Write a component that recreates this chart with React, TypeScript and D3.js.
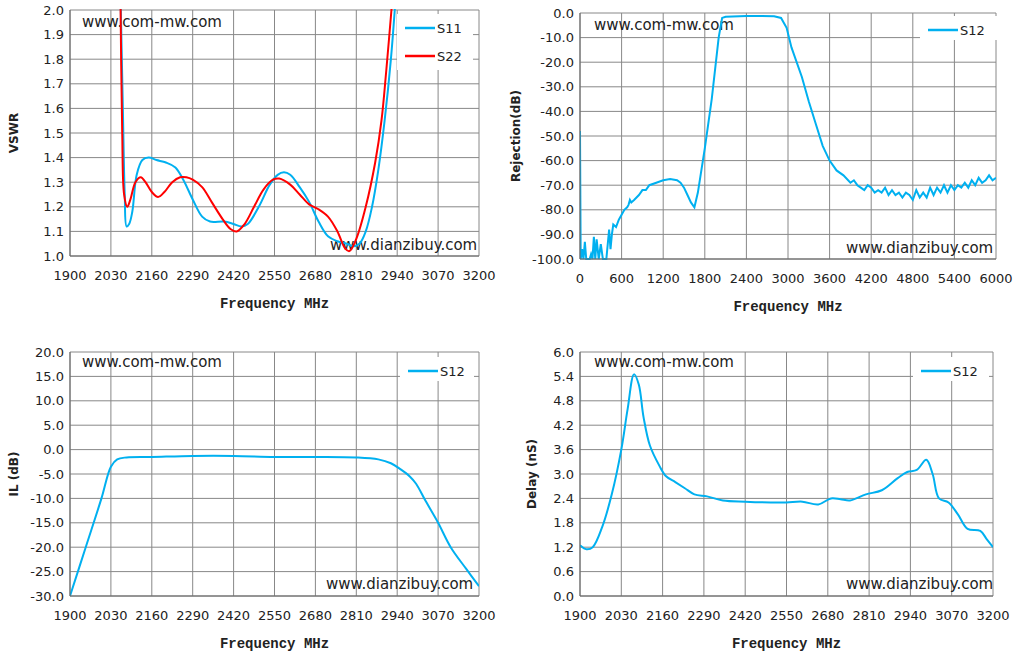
import React from 'react';
import * as d3 from 'd3';

type Pt = [number, number];

const freqTicks = [1900, 2030, 2160, 2290, 2420, 2550, 2680, 2810, 2940, 3070, 3200];
const wideTicks = [0, 600, 1200, 1800, 2400, 3000, 3600, 4200, 4800, 5400, 6000];
const vswrTicks = [1.0, 1.1, 1.2, 1.3, 1.4, 1.5, 1.6, 1.7, 1.8, 1.9, 2.0];
const rejTicks = [-100, -90, -80, -70, -60, -50, -40, -30, -20, -10, 0];
const ilTicks = [-30, -25, -20, -15, -10, -5, 0, 5, 10, 15, 20];
const delayTicks = [0, 0.6, 1.2, 1.8, 2.4, 3.0, 3.6, 4.2, 4.8, 5.4, 6.0];

const s11: Pt[] = [[2060, 2.1], [2068, 1.6], [2074, 1.25], [2080, 1.12], [2088, 1.13], [2098, 1.18], [2112, 1.33], [2130, 1.39], [2150, 1.40], [2175, 1.39], [2205, 1.38], [2235, 1.36], [2260, 1.31], [2290, 1.23], [2320, 1.16], [2345, 1.14], [2390, 1.14], [2420, 1.13], [2445, 1.12], [2465, 1.13], [2500, 1.2], [2535, 1.29], [2560, 1.33], [2580, 1.34], [2600, 1.33], [2630, 1.28], [2660, 1.22], [2690, 1.14], [2720, 1.08], [2750, 1.06], [2780, 1.05], [2800, 1.04], [2820, 1.05], [2840, 1.1], [2860, 1.2], [2880, 1.35], [2900, 1.55], [2920, 1.8], [2935, 2.05]];
const s22: Pt[] = [[2060, 2.1], [2066, 1.5], [2072, 1.25], [2082, 1.2], [2092, 1.23], [2108, 1.3], [2125, 1.32], [2140, 1.3], [2160, 1.26], [2180, 1.24], [2200, 1.26], [2225, 1.3], [2250, 1.32], [2270, 1.32], [2290, 1.31], [2320, 1.28], [2350, 1.22], [2385, 1.15], [2410, 1.11], [2430, 1.1], [2455, 1.13], [2485, 1.2], [2515, 1.27], [2545, 1.31], [2565, 1.315], [2600, 1.29], [2630, 1.25], [2660, 1.21], [2690, 1.19], [2720, 1.16], [2750, 1.1], [2775, 1.03], [2788, 1.02], [2810, 1.07], [2840, 1.2], [2870, 1.38], [2890, 1.55], [2905, 1.75], [2925, 2.05]];
const rejS12: Pt[] = [[0, -48], [10, -100], [30, -96], [50, -100], [70, -93], [90, -100], [140, -100], [160, -98], [180, -100], [200, -91], [220, -100], [240, -92], [270, -100], [300, -94], [330, -100], [380, -100], [400, -94], [420, -88], [440, -96], [460, -90], [480, -86], [520, -87], [560, -84], [600, -82], [640, -80], [680, -79], [700, -78], [720, -76], [740, -77], [780, -76], [850, -74], [900, -72], [950, -72], [1000, -70], [1100, -69], [1200, -68], [1300, -67.5], [1400, -68], [1450, -69], [1500, -71], [1550, -74], [1600, -77], [1650, -79], [1700, -73], [1800, -55], [1900, -35], [2000, -10], [2050, -2], [2100, -1.5], [2400, -1.2], [2800, -1.3], [2900, -2], [2980, -6], [3050, -14], [3200, -26], [3300, -36], [3400, -45], [3500, -54], [3600, -60], [3700, -64], [3800, -66], [3900, -69], [3950, -68], [4000, -70], [4050, -71], [4100, -72], [4150, -70], [4200, -71], [4250, -73], [4300, -72], [4350, -73], [4400, -71], [4450, -74], [4500, -72], [4550, -74], [4600, -73], [4650, -75], [4700, -73], [4750, -74], [4800, -76], [4850, -72], [4900, -75], [4950, -73], [5000, -75], [5050, -71], [5100, -74], [5150, -71], [5200, -73], [5250, -70], [5300, -73], [5350, -70], [5400, -72], [5450, -70], [5500, -71], [5550, -69], [5600, -71], [5650, -68], [5700, -70], [5750, -67], [5800, -69], [5850, -68], [5900, -66], [5950, -68], [6000, -67]];
const ilS12: Pt[] = [[1900, -30], [1950, -20], [2000, -10], [2030, -3.5], [2050, -2], [2080, -1.6], [2160, -1.5], [2290, -1.3], [2420, -1.3], [2550, -1.5], [2680, -1.5], [2810, -1.6], [2880, -2.0], [2920, -2.8], [2950, -4], [2980, -5.5], [3000, -7], [3030, -10.5], [3070, -15], [3110, -20], [3160, -24.5], [3200, -28]];
const delayS12: Pt[] = [[1900, 1.25], [1920, 1.15], [1940, 1.2], [1970, 1.7], [2000, 2.5], [2030, 3.6], [2050, 4.6], [2070, 5.45], [2085, 5.2], [2100, 4.4], [2120, 3.7], [2150, 3.2], [2170, 2.95], [2200, 2.8], [2230, 2.65], [2260, 2.5], [2300, 2.45], [2350, 2.35], [2420, 2.32], [2500, 2.3], [2550, 2.3], [2600, 2.32], [2650, 2.25], [2690, 2.4], [2720, 2.38], [2750, 2.35], [2800, 2.5], [2850, 2.6], [2900, 2.9], [2930, 3.05], [2960, 3.1], [2990, 3.35], [3010, 3.0], [3030, 2.4], [3060, 2.3], [3090, 2.0], [3120, 1.65], [3160, 1.6], [3180, 1.4], [3200, 1.2]];

const BLUE = '#00b0f0';
const RED = '#ff0000';

interface Series { name: string; color: string; data: Pt[]; }
interface PanelProps {
  x0: number; x1: number; y0: number; y1: number;
  xTicks: number[]; yTicks: number[]; yFmt: (v: number) => string;
  yTitle: string; yTitleX: number; series: Series[]; curve: boolean;
  legend: { x: number; y: number; w: number; h: number };
  wm1: [number, number]; wm2: [number, number]; id: string;
}

const Panel: React.FC<PanelProps> = p => {
  const x = d3.scaleLinear().domain([p.xTicks[0], p.xTicks[p.xTicks.length - 1]]).range([p.x0, p.x1]);
  const y = d3.scaleLinear().domain([p.yTicks[0], p.yTicks[p.yTicks.length - 1]]).range([p.y1, p.y0]);
  const line = d3.line<Pt>().x(d => x(d[0])).y(d => y(d[1]))
    .curve(p.curve ? d3.curveCatmullRom.alpha(0.5) : d3.curveLinear);
  const cx = (p.x0 + p.x1) / 2;
  return (
    <g>
      <clipPath id={p.id}><rect x={p.x0} y={p.y0 - 1} width={p.x1 - p.x0} height={p.y1 - p.y0 + 2} /></clipPath>
      {p.xTicks.map(t => <line key={'gx' + t} x1={x(t)} x2={x(t)} y1={p.y0} y2={p.y1} stroke="#888" />)}
      {p.yTicks.map(t => <line key={'gy' + t} x1={p.x0} x2={p.x1} y1={y(t)} y2={y(t)} stroke="#888" />)}
      <rect x={p.legend.x} y={p.legend.y} width={p.legend.w} height={p.legend.h} fill="#fff" />
      {p.yTicks.map(t => <text key={'ty' + t} x={p.x0 - 6} y={y(t)} dy="0.35em" textAnchor="end" fontSize={13} fontFamily="DejaVu Sans" fill="#222">{p.yFmt(t)}</text>)}
      {p.xTicks.map(t => <text key={'tx' + t} x={x(t)} y={p.y1 + 24} textAnchor="middle" fontSize={13} fontFamily="DejaVu Sans" fill="#222">{t}</text>)}
      <text x={cx} y={p.y1 + 52} textAnchor="middle" fontSize={14} fontWeight="bold" fontFamily="Liberation Mono" fill="#222">Frequency MHz</text>
      <text transform={`translate(${p.yTitleX},${(p.y0 + p.y1) / 2}) rotate(-90)`} textAnchor="middle" fontSize={12} fontWeight="bold" fontFamily="DejaVu Sans" fill="#222">{p.yTitle}</text>
      <text x={p.wm1[0]} y={p.wm1[1]} fontSize={15} fontFamily="DejaVu Sans" fill="#222">www.com-mw.com</text>
      <text x={p.wm2[0]} y={p.wm2[1]} fontSize={15} fontFamily="DejaVu Sans" fill="#222">www.dianzibuy.com</text>
      <g clipPath={`url(#${p.id})`}>
        {p.series.map(s => <path key={s.name} d={line(s.data) || ''} fill="none" stroke={s.color} strokeWidth={2} />)}
      </g>
      {p.series.map((s, i) => (
        <g key={'lg' + s.name}>
          <line x1={p.legend.x + 8} x2={p.legend.x + 38} y1={p.legend.y + 14 + i * 28} y2={p.legend.y + 14 + i * 28} stroke={s.color} strokeWidth={2.5} />
          <text x={p.legend.x + 40} y={p.legend.y + 14 + i * 28} dy="0.35em" fontSize={13} fontFamily="DejaVu Sans" fill="#222">{s.name}</text>
        </g>
      ))}
      <line x1={p.x0} x2={p.x0} y1={p.y0} y2={p.y1} stroke="#666" />
      <line x1={p.x0} x2={p.x1} y1={p.y1} y2={p.y1} stroke="#666" />
    </g>
  );
};

export default function App() {
  return (
    <svg width={1021} height={661} style={{ position: 'absolute', left: 0, top: 0, background: '#fff' }}>
      <Panel id="c1" x0={70} x1={479} y0={10} y1={256} xTicks={freqTicks} yTicks={vswrTicks} yFmt={v => v.toFixed(1)}
        yTitle="VSWR" yTitleX={18} curve series={[{ name: 'S11', color: BLUE, data: s11 }, { name: 'S22', color: RED, data: s22 }]}
        legend={{ x: 397, y: 14, w: 76, h: 56 }} wm1={[82, 27]} wm2={[330, 250]} />
      <Panel id="c2" x0={580} x1={996} y0={13} y1={259} xTicks={wideTicks} yTicks={rejTicks} yFmt={v => v.toFixed(1)}
        yTitle="Rejection(dB)" yTitleX={520} curve={false} series={[{ name: 'S12', color: BLUE, data: rejS12 }]}
        legend={{ x: 920, y: 16, w: 78, h: 24 }} wm1={[594, 30]} wm2={[846, 253]} />
      <Panel id="c3" x0={70} x1={479} y0={352} y1={596} xTicks={freqTicks} yTicks={ilTicks} yFmt={v => v.toFixed(1)}
        yTitle="IL (dB)" yTitleX={18} curve series={[{ name: 'S12', color: BLUE, data: ilS12 }]}
        legend={{ x: 400, y: 357, w: 74, h: 24 }} wm1={[82, 367]} wm2={[326, 589]} />
      <Panel id="c4" x0={580} x1={993} y0={352} y1={596} xTicks={freqTicks} yTicks={delayTicks} yFmt={v => v.toFixed(1)}
        yTitle="Delay (nS)" yTitleX={536} curve series={[{ name: 'S12', color: BLUE, data: delayS12 }]}
        legend={{ x: 913, y: 357, w: 76, h: 24 }} wm1={[594, 367]} wm2={[846, 589]} />
    </svg>
  );
}
